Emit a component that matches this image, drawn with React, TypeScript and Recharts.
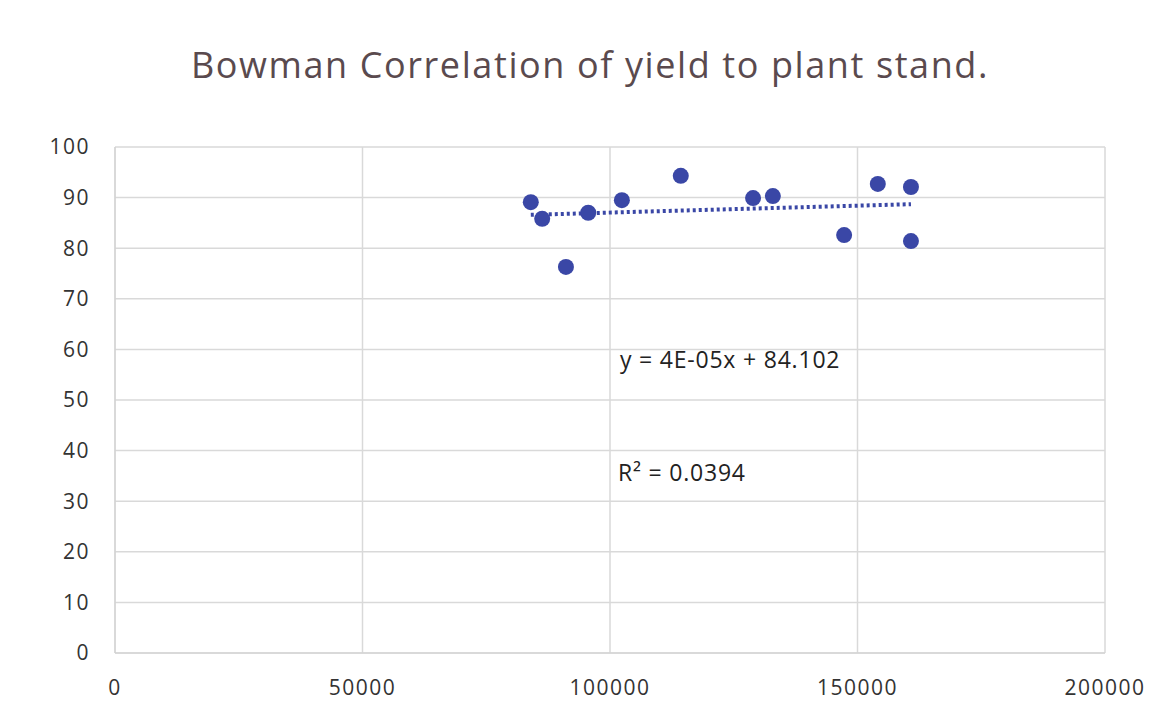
import React from 'react';
import { ScatterChart, Scatter, XAxis, YAxis, CartesianGrid, ReferenceDot } from 'recharts';

const plantStand = [84000, 86300, 91100, 95600, 102400, 114300, 128900, 132900, 147300, 154100, 160800, 160800];
const yieldValues = [89.1, 85.8, 76.3, 87.0, 89.5, 94.3, 89.9, 90.3, 82.6, 92.7, 92.1, 81.4];
const trendX = [84000, 160800];
const trendY = [86.6, 88.7];
const xTicks = [0, 50000, 100000, 150000, 200000];
const yTicks = [0, 10, 20, 30, 40, 50, 60, 70, 80, 90, 100];
const title = 'Bowman Correlation of yield to plant stand.';
const equation = 'y = 4E-05x + 84.102';
const rSquared = 'R² = 0.0394';

const points = plantStand.map((x, i) => ({ x, y: yieldValues[i] }));
const trend = trendX.map((x, i) => ({ x, y: trendY[i] }));

const BLUE = '#3a47a6';
const FONT = '"Open Sans", sans-serif';

export default function App() {
  return (
    <div style={{ position: 'absolute', left: 0, top: 0, width: 1154, height: 705, background: '#fff' }}>
      <div style={{ position: 'absolute', left: 0, top: 40, width: 1180, textAlign: 'center', fontFamily: FONT, fontSize: 36, letterSpacing: 1.6, color: '#5a4a4e' }}>
        {title}
      </div>
      <ScatterChart width={1154} height={705} margin={{ top: 147, right: 49, bottom: 0, left: 0 }}>
        <CartesianGrid stroke="#d9d9d9" strokeWidth={1.5} />
        <XAxis type="number" dataKey="x" domain={[0, 200000]} ticks={xTicks} height={52}
          tickLine={false} axisLine={{ stroke: '#d0d0d0' }} tickSize={0} tickMargin={27}
          tick={{ fontFamily: FONT, fontSize: 21, letterSpacing: 1.5, fill: '#333' }} />
        <YAxis type="number" dataKey="y" domain={[0, 100]} ticks={yTicks} width={115}
          tickLine={false} axisLine={{ stroke: '#d0d0d0' }} tickSize={0} tickMargin={25}
          tick={{ fontFamily: FONT, fontSize: 21, letterSpacing: 1.5, fill: '#333' }} />
        <Scatter data={trend} line={{ stroke: BLUE, strokeWidth: 4, strokeDasharray: '3 3' }} shape={() => null} isAnimationActive={false} />
        <Scatter data={points} fill={BLUE} isAnimationActive={false}
          shape={(p: any) => <circle cx={p.cx} cy={p.cy} r={8} fill={BLUE} />} />
        <ReferenceDot x={102000} y={58} r={0} stroke="none"
          label={{ value: equation, position: 'right', offset: 0, fontFamily: FONT, fontSize: 23, letterSpacing: 0.8, fill: '#222' }} />
        <ReferenceDot x={101600} y={35.6} r={0} stroke="none"
          label={{ value: rSquared, position: 'right', offset: 0, fontFamily: FONT, fontSize: 23, letterSpacing: 0.8, fill: '#222' }} />
      </ScatterChart>
    </div>
  );
}
